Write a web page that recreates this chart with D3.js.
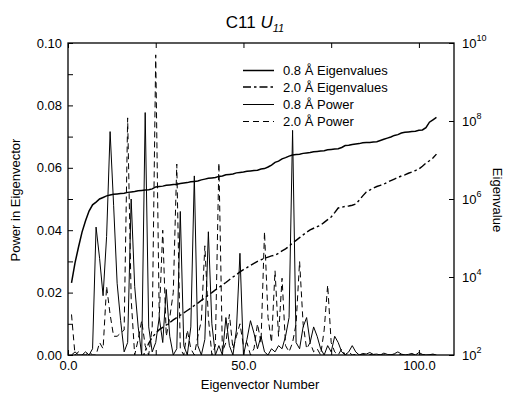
<!DOCTYPE html>
<html><head><meta charset="utf-8">
<script src="https://cdn.jsdelivr.net/npm/d3@7"></script>
<style>
body{margin:0;background:#fff;}
text{font-family:"Liberation Sans",Arial,sans-serif;fill:#000;}
</style></head>
<body><svg id="c" width="509" height="395"></svg>
<script>
const xTicks=[0,25,50,75,100];
const xLabelled=[0,50,100];
const yLeftTicks=[0,0.01,0.02,0.03,0.04,0.05,0.06,0.07,0.08,0.09,0.1];
const yLeftLabelled=[0,0.02,0.04,0.06,0.08,0.1];
const yRightExps=[2,4,6,8,10];
const titleMain="C11 ", titleVar="U", titleSub="11";
const xTitle="Eigenvector Number", yLeftTitle="Power in Eigenvector", yRightTitle="Eigenvalue";
const seriesNames=["0.8 Å Eigenvalues","2.0 Å Eigenvalues","0.8 Å Power","2.0 Å Power"];
// log10 of eigenvalues, eigenvectors 1..105
const eig08Log=[3.85,4.36,4.77,5.15,5.44,5.69,5.85,5.92,6.00,6.04,
6.08,6.10,6.12,6.13,6.14,6.15,6.17,6.18,6.19,6.21,
6.22,6.23,6.24,6.26,6.31,6.32,6.33,6.35,6.36,6.37,
6.38,6.40,6.41,6.42,6.44,6.45,6.46,6.49,6.51,6.53,
6.54,6.55,6.58,6.59,6.62,6.63,6.64,6.67,6.68,6.69,
6.71,6.72,6.73,6.74,6.77,6.78,6.82,6.87,6.94,6.97,
7.03,7.06,7.10,7.13,7.14,7.15,7.17,7.18,7.19,7.21,
7.22,7.23,7.24,7.26,7.27,7.28,7.29,7.32,7.37,7.38,
7.40,7.41,7.42,7.44,7.45,7.45,7.46,7.47,7.50,7.53,
7.56,7.59,7.63,7.65,7.69,7.71,7.72,7.73,7.74,7.76,
7.77,7.83,7.97,8.03,8.09];
// log10 of 2.0 A eigenvalues, eigenvectors 21..105
const eig20Start=21;
const eig20Log=[1.85,2.10,2.30,2.45,2.56,2.65,2.71,2.77,2.83,2.90,
2.96,3.02,3.08,3.14,3.20,3.27,3.33,3.40,3.47,3.54,
3.60,3.67,3.73,3.80,3.86,3.93,4.00,4.06,4.13,4.19,
4.24,4.30,4.35,4.40,4.44,4.48,4.51,4.54,4.56,4.61,
4.67,4.72,4.79,4.87,4.94,5.01,5.08,5.15,5.21,5.25,
5.29,5.33,5.40,5.47,5.54,5.65,5.77,5.79,5.81,5.82,
5.84,5.87,5.97,6.08,6.18,6.23,6.28,6.32,6.35,6.38,
6.43,6.47,6.51,6.55,6.59,6.62,6.66,6.69,6.73,6.77,
6.84,6.92,6.98,7.05,7.15];
// power in eigenvector, eigenvectors 1..105
const pow08=[0.000,0.001,0.000,0.000,0.001,0.000,0.002,0.041,0.031,0.019,
0.038,0.0716,0.048,0.023,0.011,0.001,0.004,0.050,0.022,0.009,
0.000,0.0777,0.009,0.001,0.004,0.012,0.004,0.021,0.006,0.000,
0.002,0.046,0.003,0.000,0.009,0.0574,0.003,0.000,0.005,0.0395,
0.010,0.000,0.003,0.000,0.012,0.003,0.000,0.008,0.0326,0.000,
0.005,0.011,0.007,0.002,0.006,0.001,0.000,0.002,0.001,0.003,
0.002,0.006,0.012,0.072,0.004,0.002,0.009,0.012,0.004,0.009,
0.006,0.002,0.000,0.003,0.001,0.006,0.004,0.001,0.000,0.001,
0.003,0.001,0.000,0.0005,0.0003,0.0008,0.0002,0.0003,0.000,0.0006,
0.0002,0.000,0.0004,0.001,0.0003,0.000,0.0002,0.0005,0.000,0.0008,
0.0002,0.000,0.0001,0.0003,0.000];
const pow20=[0.013,0.000,0.001,0.000,0.000,0.001,0.000,0.000,0.004,0.002,
0.022,0.013,0.006,0.006,0.007,0.008,0.076,0.018,0.000,0.005,
0.011,0.003,0.000,0.009,0.0962,0.012,0.040,0.006,0.012,0.020,
0.0612,0.002,0.000,0.008,0.002,0.000,0.006,0.011,0.035,0.012,
0.000,0.003,0.0616,0.001,0.004,0.013,0.002,0.006,0.010,0.003,
0.004,0.000,0.002,0.010,0.004,0.0395,0.012,0.004,0.027,0.006,
0.0246,0.003,0.001,0.004,0.010,0.030,0.010,0.002,0.004,0.001,
0.002,0.000,0.008,0.0224,0.004,0.001,0.000,0.002,0.000,0.001,
0.000,0.0002,0.000,0.0001,0.000,0.0002,0.000,0.000,0.0001,0.000,
0.000,0.0001,0.000,0.000,0.0001,0.000,0.000,0.000,0.0001,0.000,
0.000,0.000,0.000,0.000,0.000];

const svg=d3.select("#c");
const L=68,R=454,T=43,B=355;
const x=d3.scaleLinear().domain([0,110]).range([L,R]);
const yL=d3.scaleLinear().domain([0,0.1]).range([B,T]);
const yR=d3.scaleLog().domain([1e2,1e10]).range([B,T]);

svg.append("defs").append("clipPath").attr("id","clip").append("rect")
  .attr("x",L).attr("y",T).attr("width",R-L).attr("height",B-T);
const g=svg.append("g").attr("clip-path","url(#clip)");

const linePow=d3.line().x((d,i)=>x(i+1)).y(d=>yL(d));
g.append("path").datum(pow20).attr("d",linePow).attr("fill","none")
  .attr("stroke","#000").attr("stroke-width",1).attr("stroke-dasharray","6,4");
g.append("path").datum(pow08).attr("d",linePow).attr("fill","none")
  .attr("stroke","#000").attr("stroke-width",1);
g.append("path").datum(eig20Log).attr("d",d3.line().x((d,i)=>x(i+eig20Start)).y(d=>yR(Math.pow(10,d))))
  .attr("fill","none").attr("stroke","#000").attr("stroke-width",1.4).attr("stroke-dasharray","8,3,2.5,3");
g.append("path").datum(eig08Log).attr("d",d3.line().x((d,i)=>x(i+1)).y(d=>yR(Math.pow(10,d))))
  .attr("fill","none").attr("stroke","#000").attr("stroke-width",1.5);

function style(sel){
  sel.select(".domain").remove();
  sel.selectAll("line").attr("stroke","#000").attr("stroke-width",1);
  sel.selectAll("text").attr("font-size",13).attr("font-family","Liberation Sans, Arial, sans-serif");
}
const fmtX=d=>xLabelled.includes(d)?d3.format(".1f")(d):"";
svg.append("g").attr("transform",`translate(0,${B})`)
  .call(d3.axisBottom(x).tickValues(xTicks).tickSizeInner(-5).tickSizeOuter(0).tickPadding(6).tickFormat(fmtX)).call(style);
svg.append("g").attr("transform",`translate(0,${T})`)
  .call(d3.axisTop(x).tickValues(xTicks).tickSizeInner(-5).tickSizeOuter(0).tickFormat("")).call(style);
const fmtY=d=>yLeftLabelled.some(v=>Math.abs(v-d)<1e-9)?d3.format(".2f")(d):"";
svg.append("g").attr("transform",`translate(${L},0)`)
  .call(d3.axisLeft(yL).tickValues(yLeftTicks).tickSizeInner(-5).tickSizeOuter(0).tickPadding(6).tickFormat(fmtY)).call(style);
const rAx=svg.append("g").attr("transform",`translate(${R},0)`)
  .call(d3.axisRight(yR).tickValues(yRightExps.map(e=>Math.pow(10,e))).tickSizeInner(-5).tickSizeOuter(0).tickFormat("")).call(style);
rAx.selectAll(".tick").each(function(d){
  const t=d3.select(this).append("text").attr("x",8).attr("dy","0.32em").attr("text-anchor","start")
    .attr("font-size",13).attr("fill","#000");
  t.append("tspan").text("10");
  t.append("tspan").attr("font-size",9).attr("dy","-0.75em").text(String(Math.round(Math.log10(d))));
});
// frame
svg.append("rect").attr("x",L).attr("y",T).attr("width",R-L).attr("height",B-T)
  .attr("fill","none").attr("stroke","#000").attr("stroke-width",1.3);

// titles
const tt=svg.append("text").attr("x",255).attr("y",28).attr("text-anchor","middle").attr("font-size",17);
tt.append("tspan").text(titleMain);
tt.append("tspan").attr("font-style","italic").text(titleVar);
tt.append("tspan").attr("font-style","italic").attr("font-size",11).attr("dy",4).text(titleSub);
svg.append("text").attr("x",260).attr("y",389).attr("text-anchor","middle").attr("font-size",13).text(xTitle);
svg.append("text").attr("transform","translate(20,200) rotate(-90)").attr("text-anchor","middle").attr("font-size",13).text(yLeftTitle);
svg.append("text").attr("transform","translate(493,200) rotate(90)").attr("text-anchor","middle").attr("font-size",13).text(yRightTitle);

// legend
const legDash=[null,"8,3,2.5,3",null,"6,4"];
const legW=[1.5,1.4,1,1];
const legY=[70.5,87,104.5,121.5];
seriesNames.forEach((n,i)=>{
  svg.append("line").attr("x1",243).attr("x2",274).attr("y1",legY[i]).attr("y2",legY[i])
    .attr("stroke","#000").attr("stroke-width",legW[i]).attr("stroke-dasharray",legDash[i]);
  svg.append("text").attr("x",283).attr("y",legY[i]).attr("dy","0.35em").attr("font-size",13).text(n);
});
</script></body></html>
